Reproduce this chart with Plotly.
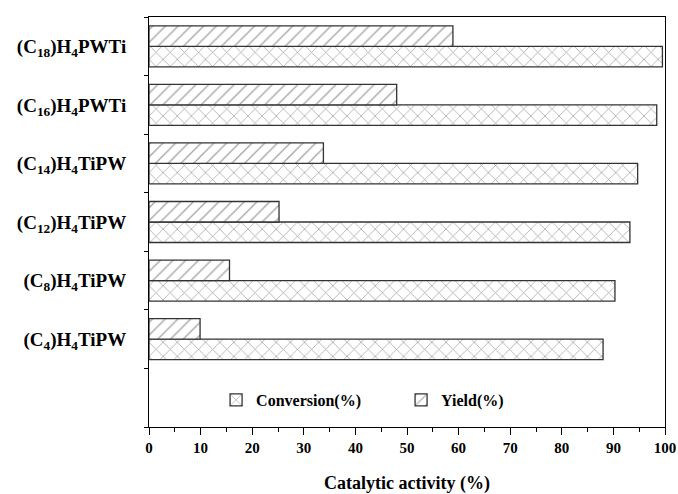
import plotly.graph_objects as go

categories = [
    " ",
    "(C<sub>4</sub>)H<sub>4</sub>TiPW",
    "(C<sub>8</sub>)H<sub>4</sub>TiPW",
    "(C<sub>12</sub>)H<sub>4</sub>TiPW",
    "(C<sub>14</sub>)H<sub>4</sub>TiPW",
    "(C<sub>16</sub>)H<sub>4</sub>PWTi",
    "(C<sub>18</sub>)H<sub>4</sub>PWTi",
]
data_categories = categories[1:]
conversion = [88.0, 90.3, 93.2, 94.7, 98.4, 99.5]
yield_pct = [9.9, 15.6, 25.2, 33.8, 48.0, 58.9]
x_ticks = [0, 10, 20, 30, 40, 50, 60, 70, 80, 90, 100]

FONT = "Liberation Serif"

fig = go.Figure()
fig.add_trace(go.Bar(
    y=data_categories, x=conversion, orientation="h", name="Conversion(%)",
    marker=dict(color="white", line=dict(color="#333333", width=1.3),
                pattern=dict(shape="x", fgcolor="#4a4a4a", bgcolor="white",
                             size=10, solidity=0.15)),
))
fig.add_trace(go.Bar(
    y=data_categories, x=yield_pct, orientation="h", name="Yield(%)",
    marker=dict(color="white", line=dict(color="#333333", width=1.3),
                pattern=dict(shape="/", fgcolor="#4a4a4a", bgcolor="white",
                             size=9, solidity=0.15)),
))

fig.update_layout(
    width=678, height=494,
    margin=dict(l=149, r=13, t=17, b=67),
    paper_bgcolor="white", plot_bgcolor="white",
    barmode="group", bargap=0.30, bargroupgap=0,
    font=dict(family=FONT, color="black", weight="bold"),
    showlegend=True,
    legend=dict(orientation="h", x=0.13, y=0.066, xanchor="left", yanchor="middle",
                font=dict(family=FONT, size=16, weight="bold"),
                bgcolor="rgba(0,0,0,0)", entrywidth=140, traceorder="normal"),
    xaxis=dict(
        range=[0, 100], tickvals=x_ticks, ticks="outside", ticklen=7, tickwidth=1,
        tickcolor="black", showline=True, linecolor="black", linewidth=1, mirror=True,
        showgrid=False, zeroline=False, automargin=False, ticklabelstandoff=0,
        tickfont=dict(family=FONT, size=15, weight="bold"),
        minor=dict(dtick=5, ticks="outside", ticklen=4, tickcolor="black", showgrid=False),
        title=dict(text="Catalytic activity (%)", standoff=24,
                   font=dict(family=FONT, size=18, weight="bold")),
    ),
    yaxis=dict(
        type="category", categoryorder="array", categoryarray=categories,
        range=[-0.5, 6.5], tickson="boundaries", ticks="outside", ticklen=4,
        tickcolor="black", showline=True, linecolor="black", linewidth=1, mirror=True,
        showgrid=False, zeroline=False, ticklabelstandoff=18, automargin=False,
        tickfont=dict(family=FONT, size=19, weight="bold"),
    ),
)

fig.write_html("out.html")
